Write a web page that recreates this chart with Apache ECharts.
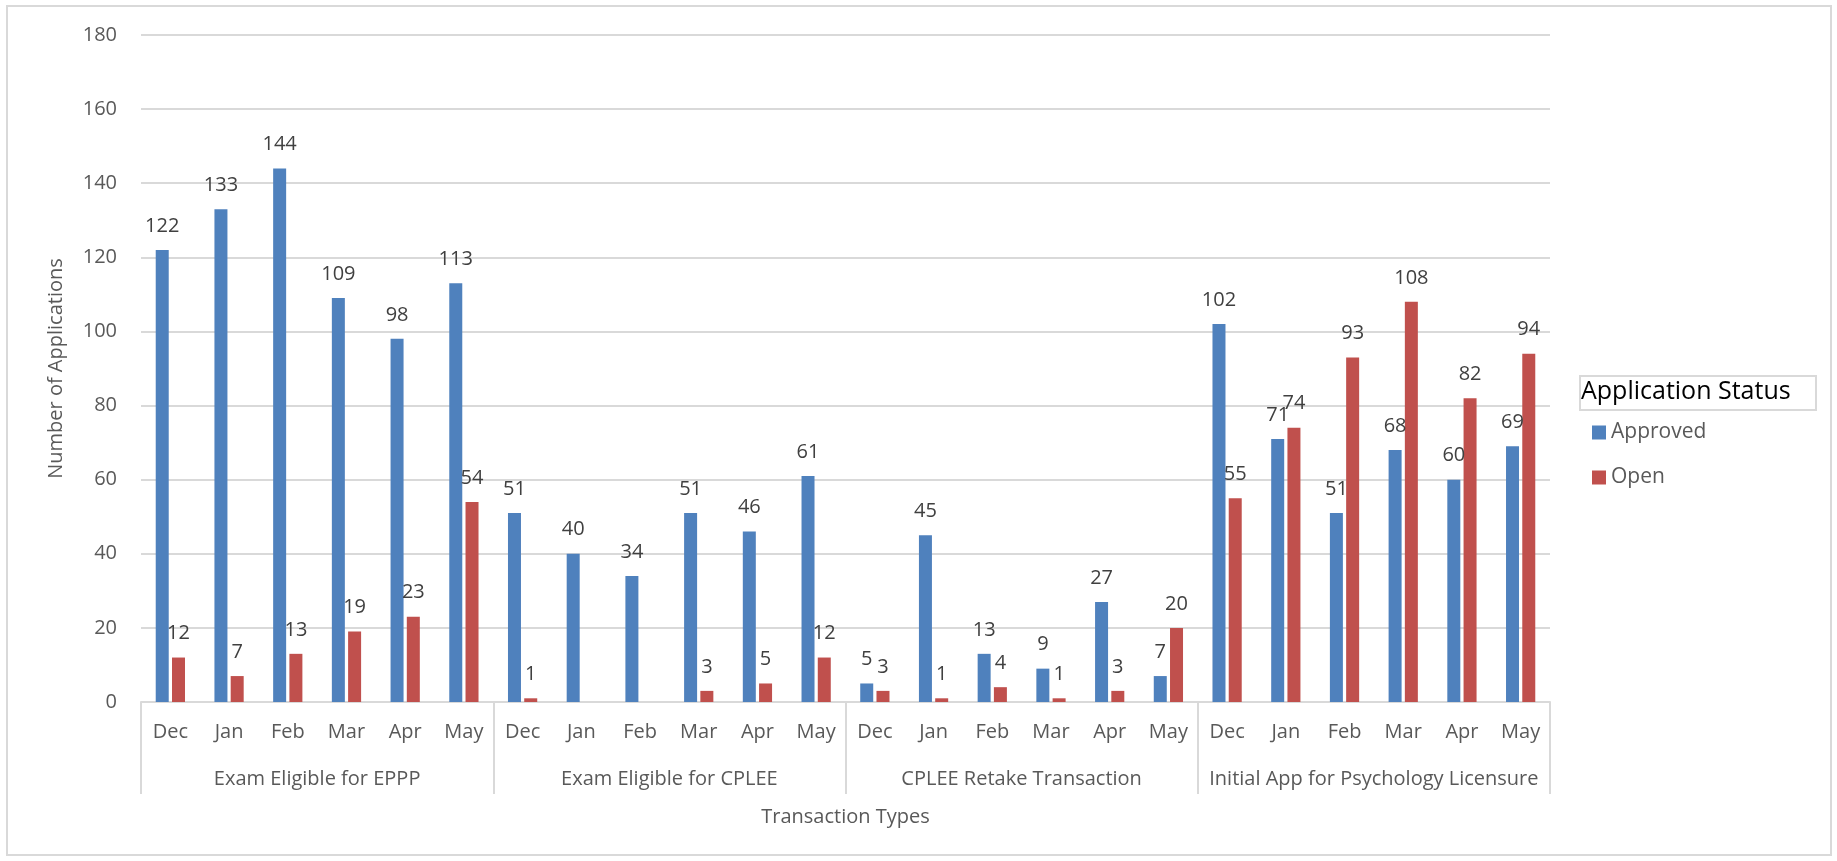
<!DOCTYPE html>
<html>
<head>
<meta charset="utf-8">
<script src="https://cdn.jsdelivr.net/npm/echarts@6/dist/echarts.min.js"></script>
<style>
  html, body { margin: 0; padding: 0; background: #fff; }
  #chart { width: 1837px; height: 861px; }
</style>
</head>
<body>
<div id="chart"></div>
<script>
// categories
var months = ["Dec", "Jan", "Feb", "Mar", "Apr", "May",
              "Dec", "Jan", "Feb", "Mar", "Apr", "May",
              "Dec", "Jan", "Feb", "Mar", "Apr", "May",
              "Dec", "Jan", "Feb", "Mar", "Apr", "May"];
var groups = ["Exam Eligible for EPPP", "Exam Eligible for CPLEE",
              "CPLEE Retake Transaction", "Initial App for Psychology Licensure"];

// series values
var approved = [122, 133, 144, 109, 98, 113,
                51, 40, 34, 51, 46, 61,
                5, 45, 13, 9, 27, 7,
                102, 71, 51, 68, 60, 69];
var open = [12, 7, 13, 19, 23, 54,
            1, null, null, 3, 5, 12,
            3, 1, 4, 1, 3, 20,
            55, 74, 93, 108, 82, 94];

var yTicks = { min: 0, max: 180, interval: 20 };

var font = "'Open Sans', sans-serif";
var axisGray = "#d9d9d9";
var textGray = "#595959";

var myChart = echarts.init(document.getElementById("chart"));
myChart.setOption({
  animation: false,
  textStyle: { fontFamily: font },
  graphic: [
    {
      type: "rect",
      shape: { x: 7, y: 6, width: 1824, height: 849 },
      style: { fill: "none", stroke: axisGray, lineWidth: 2 },
      silent: true
    },
    {
      type: "rect",
      shape: { x: 1580, y: 376, width: 236, height: 34 },
      style: { fill: "none", stroke: axisGray, lineWidth: 2 },
      silent: true
    },
    {
      type: "text",
      left: 1581,
      top: 379,
      style: { text: "Application Status", fill: "#000", font: "25px " + font }
    }
  ],
  grid: {
    left: 141,
    right: 287,
    top: 35,
    bottom: 159
  },
  legend: {
    orient: "vertical",
    left: 1587,
    top: 417,
    itemWidth: 14,
    itemHeight: 14,
    itemGap: 24,
    icon: "rect",
    textStyle: { color: textGray, fontSize: 21, fontFamily: font },
    data: ["Approved", "Open"]
  },
  xAxis: [
    {
      type: "category",
      data: months,
      axisLine: { show: true, lineStyle: { color: axisGray, width: 2 } },
      axisTick: { show: false },
      axisLabel: { color: textGray, fontSize: 20, margin: 20, interval: 0 }
    },
    {
      type: "category",
      data: groups,
      position: "bottom",
      axisLine: { show: false },
      axisTick: { show: true, length: 92, lineStyle: { color: axisGray, width: 2 } },
      axisLabel: { color: textGray, fontSize: 20, margin: 67, interval: 0 },
      name: "Transaction Types",
      nameLocation: "middle",
      nameGap: 105,
      nameTextStyle: { color: textGray, fontSize: 20 }
    }
  ],
  yAxis: {
    type: "value",
    min: yTicks.min,
    max: yTicks.max,
    interval: yTicks.interval,
    axisLine: { show: false },
    axisTick: { show: false },
    axisLabel: { color: textGray, fontSize: 20, margin: 24 },
    splitLine: { lineStyle: { color: axisGray, width: 2 } },
    name: "Number of Applications",
    nameLocation: "middle",
    nameGap: 75,
    nameTextStyle: { color: textGray, fontSize: 20 }
  },
  series: [
    {
      name: "Approved",
      type: "bar",
      data: approved,
      barWidth: 13,
      barGap: "25%",
      itemStyle: { color: "#4f81bd" },
      label: { show: true, position: "top", distance: 14, color: "#404040", fontSize: 20 }
    },
    {
      name: "Open",
      type: "bar",
      data: open,
      barWidth: 13,
      barGap: "25%",
      itemStyle: { color: "#c0504d" },
      label: { show: true, position: "top", distance: 14, color: "#404040", fontSize: 20 }
    }
  ]
});
</script>
</body>
</html>
